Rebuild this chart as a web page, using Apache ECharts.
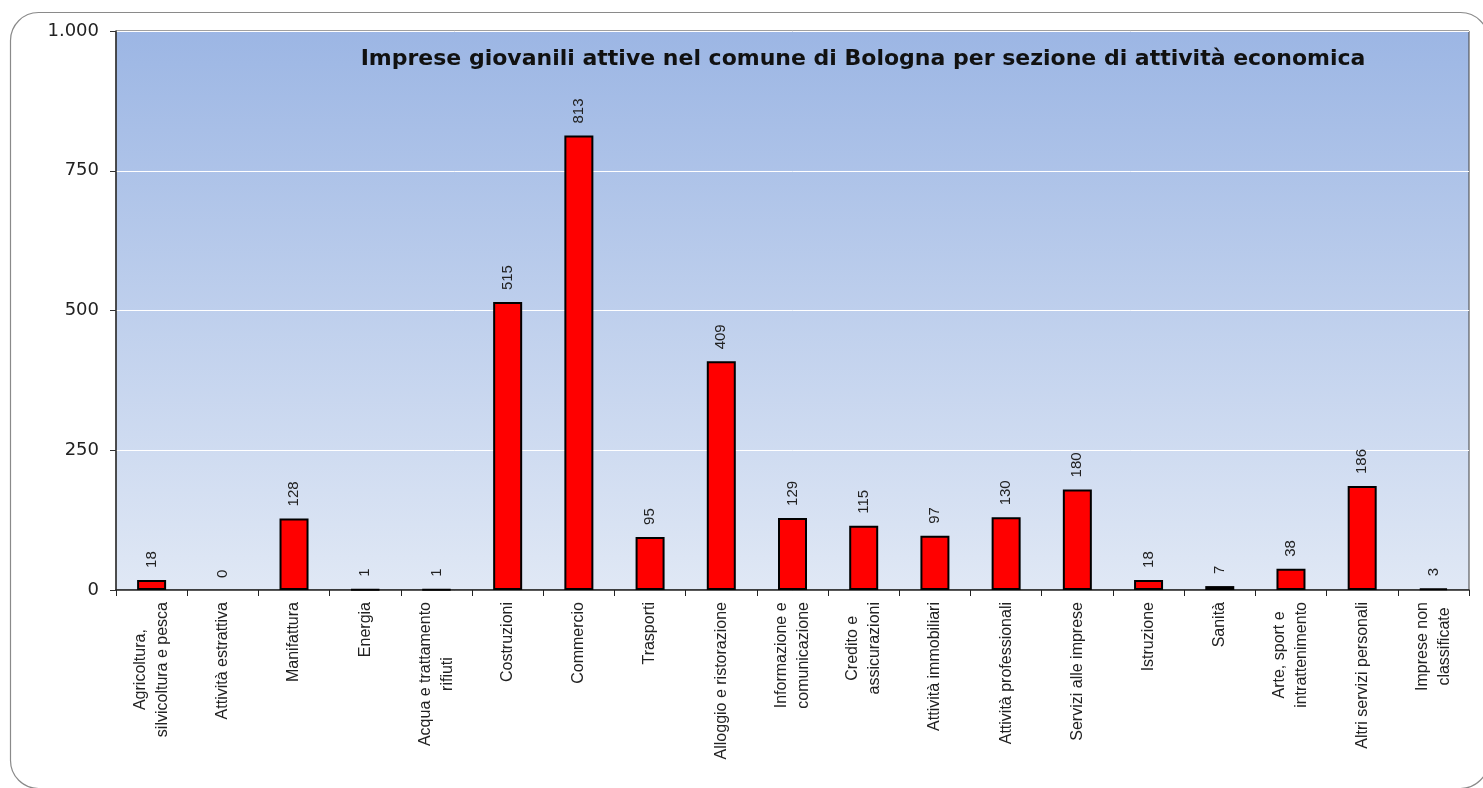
<!DOCTYPE html>
<html>
<head>
<meta charset="utf-8">
<script src="https://cdn.jsdelivr.net/npm/echarts@6/dist/echarts.min.js"></script>
<style>
html,body{margin:0;padding:0;background:#fff;}
#chart{width:1483px;height:788px;}
</style>
</head>
<body>
<div id="chart"></div>
<script>
const titleText = 'Imprese giovanili attive nel comune di Bologna per sezione di attività economica';
const categories = [
  'Agricoltura,\nsilvicoltura e pesca',
  'Attività estrattiva',
  'Manifattura',
  'Energia',
  'Acqua e trattamento\nrifiuti',
  'Costruzioni',
  'Commercio',
  'Trasporti',
  'Alloggio e ristorazione',
  'Informazione e\ncomunicazione',
  'Credito e\nassicurazioni',
  'Attività immobiliari',
  'Attività professionali',
  'Servizi alle imprese',
  'Istruzione',
  'Sanità',
  'Arte, sport e\nintrattenimento',
  'Altri servizi personali',
  'Imprese non\nclassificate'
];
const values = [18, 0, 128, 1, 1, 515, 813, 95, 409, 129, 115, 97, 130, 180, 18, 7, 38, 186, 3];
const yMin = 0, yMax = 1000, yStep = 250;

const barData = values.map(function (v) {
  return v === 0 ? {value: v, itemStyle: {borderWidth: 0}} : v;
});

const chart = echarts.init(document.getElementById('chart'), null, {renderer: 'canvas'});
chart.setOption({
  backgroundColor: '#ffffff',
  animation: false,
  graphic: [{
    type: 'rect',
    left: 8, top: 10,
    shape: {width: 1478, height: 776, r: 28},
    style: {fill: 'none', stroke: '#8a8a8a', lineWidth: 1.2},
    z: -10
  }],
  title: {
    text: titleText,
    left: 858, top: 43,
    textAlign: 'center',
    textStyle: {fontFamily: 'DejaVu Sans', fontWeight: 'bold', fontSize: 22, color: '#111'}
  },
  grid: {
    left: 116, right: 14, top: 31, bottom: 198,
    show: true,
    borderColor: '#404040', borderWidth: 1,
    backgroundColor: new echarts.graphic.LinearGradient(0, 0, 0, 1, [
      {offset: 0, color: '#9cb6e4'},
      {offset: 1, color: '#e0e8f5'}
    ])
  },
  xAxis: {
    type: 'category',
    data: categories,
    axisLine: {lineStyle: {color: '#222', width: 1.5}},
    axisTick: {show: true, length: 6, lineStyle: {color: '#222'}},
    axisLabel: {
      rotate: 90,
      interval: 0,
      margin: 12,
      color: '#222',
      fontFamily: 'Liberation Sans',
      fontSize: 16,
      lineHeight: 22,
      formatter: function (v) {
        return v.split('\n').map(function (s) { return '{a|' + s + '}'; }).join('\n');
      },
      rich: {a: {align: 'center', fontFamily: 'Liberation Sans', fontSize: 16, lineHeight: 22, color: '#222'}}
    }
  },
  yAxis: {
    type: 'value',
    min: yMin, max: yMax, interval: yStep,
    axisLine: {show: true, lineStyle: {color: '#333', width: 1.5}},
    axisTick: {show: true, length: 6, lineStyle: {color: '#333'}},
    splitLine: {show: true, lineStyle: {color: '#ffffff', width: 1}},
    axisLabel: {
      margin: 17,
      color: '#222',
      fontFamily: 'DejaVu Sans',
      fontSize: 18,
      formatter: function (v) { return String(v).replace(/\B(?=(\d{3})+(?!\d))/g, '.'); }
    }
  },
  series: [{
    type: 'bar',
    data: barData,
    barWidth: 29,
    itemStyle: {color: '#ff0000', borderColor: '#000', borderWidth: 2},
    label: {
      show: true,
      position: 'top',
      rotate: 90,
      align: 'left',
      verticalAlign: 'middle',
      distance: 12,
      color: '#222',
      fontFamily: 'Liberation Sans',
      fontSize: 15
    }
  }]
});
</script>
</body>
</html>
